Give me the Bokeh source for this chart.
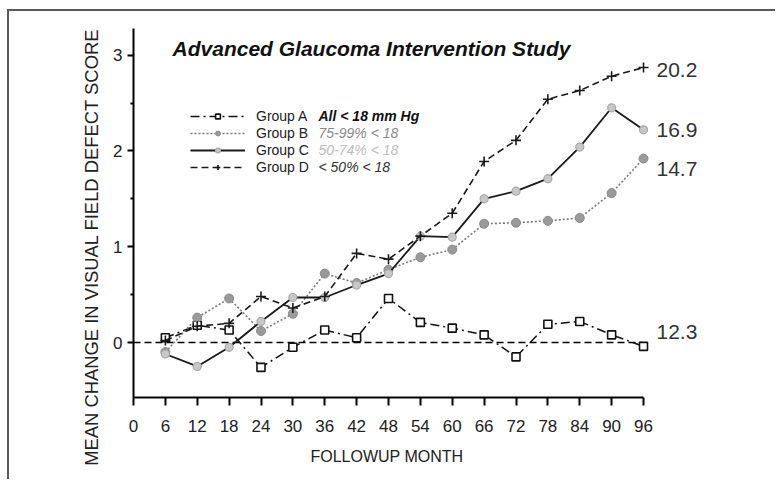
from bokeh.plotting import figure
from bokeh.models import Range1d, Legend, LegendItem, Label, FixedTicker, ColumnDataSource, Title
from bokeh.core.properties import value
from bokeh.embed import file_html
from bokeh.resources import INLINE

# ---- data ----
months = [6, 12, 18, 24, 30, 36, 42, 48, 54, 60, 66, 72, 78, 84, 90, 96]
x_ticks = [0, 6, 12, 18, 24, 30, 36, 42, 48, 54, 60, 66, 72, 78, 84, 90, 96]
y_ticks = [0, 1, 2, 3]
y_minor = [0.5, 1.5, 2.5]
group_a = [0.05, 0.18, 0.13, -0.26, -0.05, 0.13, 0.05, 0.46, 0.21, 0.15, 0.08, -0.15, 0.19, 0.22, 0.08, -0.04]
group_b = [-0.10, 0.26, 0.46, 0.12, 0.30, 0.72, 0.62, 0.76, 0.89, 0.97, 1.24, 1.25, 1.27, 1.30, 1.56, 1.92]
group_c = [-0.12, -0.25, -0.05, 0.22, 0.47, 0.47, 0.60, 0.72, 1.11, 1.10, 1.50, 1.58, 1.71, 2.04, 2.45, 2.22]
group_d = [0.02, 0.17, 0.20, 0.48, 0.36, 0.48, 0.93, 0.87, 1.11, 1.35, 1.89, 2.11, 2.54, 2.63, 2.78, 2.87]
end_labels = ["12.3", "14.7", "16.9", "20.2"]
legend_names = ["Group A", "Group B", "Group C", "Group D"]
legend_desc = ["All < 18 mm Hg", "75-99% < 18", "50-74% < 18", "< 50% < 18"]
title_text = "Advanced Glaucoma Intervention Study"
x_label = "FOLLOWUP MONTH"
y_label = "MEAN CHANGE IN VISUAL FIELD DEFECT SCORE"

# ---- layout ----
W, H = 768, 470
ML, MR, MT, MB = 124, 17, 9, 84
FW, FH = W - ML - MR, H - MT - MB
PX_PER_MONTH = 31.875 / 6.0
PX_PER_UNIT = 95.8
y0 = -0.574
x_end = FW / PX_PER_MONTH
y_end = y0 + FH / PX_PER_UNIT

SANS = "Liberation Sans"

p = figure(width=W, height=H, output_backend="svg", toolbar_location=None,
           x_range=Range1d(0, x_end), y_range=Range1d(y0, y_end),
           min_border_left=ML, min_border_right=MR, min_border_top=MT, min_border_bottom=MB)
p.styles = {"margin-left": "7px", "margin-top": "9px",
            "border-top": "2px solid #5a5a5a", "border-left": "2px solid #5a5a5a"}
p.outline_line_color = None
p.xgrid.visible = False
p.ygrid.visible = False
p.background_fill_color = "white"

# axes
p.xaxis.bounds = (x_ticks[0], x_ticks[-1])
p.xaxis.ticker = FixedTicker(ticks=x_ticks)
p.xaxis.axis_line_width = 2
p.xaxis.major_tick_line_width = 2
p.xaxis.major_tick_out = 8
p.xaxis.major_tick_in = 0
p.xaxis.minor_tick_line_color = None
p.xaxis.major_label_standoff = 14
p.xaxis.major_label_text_font = SANS
p.xaxis.major_label_text_font_size = "17px"
p.xaxis.major_label_text_color = "#222"

p.yaxis.bounds = (y0, 3.28)
p.yaxis.ticker = FixedTicker(ticks=y_ticks, minor_ticks=y_minor)
p.yaxis.axis_line_width = 2
p.yaxis.major_tick_line_width = 2
p.yaxis.major_tick_out = 6
p.yaxis.major_tick_in = 0
p.yaxis.minor_tick_out = 3
p.yaxis.minor_tick_in = 0
p.yaxis.minor_tick_line_width = 2
p.yaxis.major_label_standoff = 5
p.yaxis.major_label_text_font = SANS
p.yaxis.major_label_text_font_size = "17px"
p.yaxis.major_label_text_color = "#222"

# axis titles as side titles (so they can be shifted along the axis)
p.add_layout(Title(text=y_label, align="right", offset=8, standoff=18,
                   text_font=SANS, text_font_size="18.4px", text_font_style="normal",
                   text_color="#222"), "left")
p.add_layout(Title(text=x_label, align="left", offset=177, standoff=23,
                   text_font=SANS, text_font_size="16px", text_font_style="normal",
                   text_color="#222"), "below")

# zero reference line
p.line(x=[x_ticks[0], x_ticks[-1]], y=[0, 0], line_color="black", line_width=1.6, line_dash="7 4")

# series
la = p.line(months, group_a, line_color="#111", line_width=1.5, line_dash="9 4 2 4")
ma = p.scatter(months, group_a, marker="square", size=8, fill_color="white", line_color="#111", line_width=1.6)
lb = p.line(months, group_b, line_color="#7a7a7a", line_width=1.6, line_dash="2 2")
mb = p.scatter(months, group_b, marker="circle", size=9, fill_color="#9a9a9a", line_color="#8a8a8a")
lc = p.line(months, group_c, line_color="#1a1a1a", line_width=1.8)
mc = p.scatter(months, group_c, marker="circle", size=8, fill_color="#c8c8c8", line_color="#a8a8a8", line_width=1.2)
ld = p.line(months, group_d, line_color="#1a1a1a", line_width=1.6, line_dash="7 4")
md = p.scatter(months, group_d, marker="cross", size=10, line_color="#1a1a1a", line_width=1.6)

# end labels
ends = [group_a[-1], group_b[-1], group_c[-1], group_d[-1]]
end_yoff = [-14, 10, 0, 2]
src = ColumnDataSource(dict(x=[months[-1]] * 4, y=ends, t=end_labels, yo=end_yoff))
p.text(x="x", y="y", text="t", y_offset="yo", x_offset=13, source=src,
       text_font=value(SANS), text_font_size="21px", text_color="#333",
       text_align="left", text_baseline="middle")

# legend
ROW = 17
legend = Legend(items=[LegendItem(label=n, renderers=r) for n, r in
                       zip(legend_names, [[la, ma], [lb, mb], [lc, mc], [ld, md]])],
                location=(57, 222), padding=0, spacing=0, margin=0,
                label_height=ROW, glyph_height=12, glyph_width=55, label_standoff=11,
                label_text_font=SANS, label_text_font_size="14px", label_text_color="#222",
                background_fill_alpha=0, border_line_color=None)
p.add_layout(legend)

desc_colors = ["#111", "#8a8a8a", "#bdbdbd", "#333"]
desc_styles = ["bold italic", "italic", "italic", "italic"]
top_row_y = 222 + 4 * ROW - ROW / 2
for i, (d, c, s) in enumerate(zip(legend_desc, desc_colors, desc_styles)):
    p.add_layout(Label(x=185, y=top_row_y - i * ROW, x_units="screen", y_units="screen", text=d,
                       text_font=SANS, text_font_size="14px", text_font_style=s, text_color=c,
                       text_align="left", text_baseline="middle"))

# title
p.add_layout(Label(x=238, y=349, x_units="screen", y_units="screen", text=title_text,
                   text_font=SANS, text_font_size="21px", text_font_style="bold italic",
                   text_color="#111", text_align="center", text_baseline="middle"))

open("out.html", "w").write(file_html(p, INLINE))
